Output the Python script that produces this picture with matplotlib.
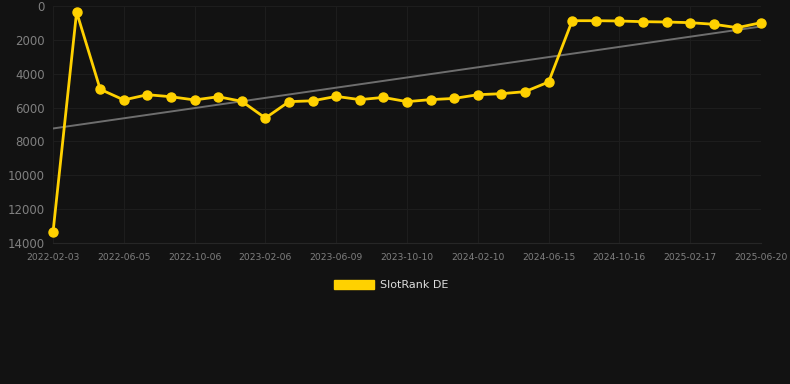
import matplotlib
matplotlib.use("Agg")
import matplotlib.pyplot as plt
import numpy as np
from matplotlib.patches import Patch

# SlotRank DE rank over time (lower is better, axis inverted)
rank = [13370, 354, 4920, 5550, 5240, 5360, 5550, 5360, 5630, 6620,
        5650, 5600, 5340, 5530, 5400, 5650, 5530, 5460, 5240, 5180,
        5060, 4490, 868, 868, 886, 927, 945, 985, 1080, 1280, 985]
tick_labels = ["2022-02-03", "2022-06-05", "2022-10-06", "2023-02-06",
               "2023-06-09", "2023-10-10", "2024-02-10", "2024-06-15",
               "2024-10-16", "2025-02-17", "2025-06-20"]
y_ticks = [0, 2000, 4000, 6000, 8000, 10000, 12000, 14000]

bg = "#121212"
grid_c = "#1d1d1d"
txt_c = "#808080"
gold = "#FFD100"

x = np.arange(len(rank))
slope, icpt = np.polyfit(x, rank, 1)

fig = plt.figure(figsize=(7.9, 3.84), dpi=100, facecolor=bg)
ax = fig.add_axes([53 / 790, 1 - 243 / 384, 708 / 790, 237 / 384])
ax.set_facecolor(bg)

ax.plot(x, slope * x + icpt, color="#6e6e6e", lw=1.4, zorder=2)
ax.plot(x, rank, color=gold, lw=2.0, marker="o", ms=6.5, zorder=3, clip_on=False)

ax.set_xlim(0, len(rank) - 1)
ax.set_ylim(14000, 0)
ax.set_yticks(y_ticks)
ax.set_yticklabels([str(v) for v in y_ticks], fontsize=8.5, color=txt_c)
ax.set_xticks(x[::3])
ax.set_xticklabels(tick_labels, fontsize=6.6, color=txt_c)
ax.tick_params(length=0, pad=6)
ax.tick_params(axis="x", pad=7)
ax.grid(True, color=grid_c, lw=0.8)
ax.set_axisbelow(True)
for s in ["top", "right", "left"]:
    ax.spines[s].set_visible(False)
ax.spines["bottom"].set_color("#262626")

handle = Patch(facecolor=gold, edgecolor=gold, label="SlotRank DE")
fig.legend(handles=[handle], loc="center", bbox_to_anchor=(0.495, 1 - 285 / 384),
           frameon=False, fontsize=8, labelcolor="#dddddd",
           handlelength=3.6, handleheight=0.9, handletextpad=0.5)

fig.savefig("out.png", dpi=100, facecolor=bg)
